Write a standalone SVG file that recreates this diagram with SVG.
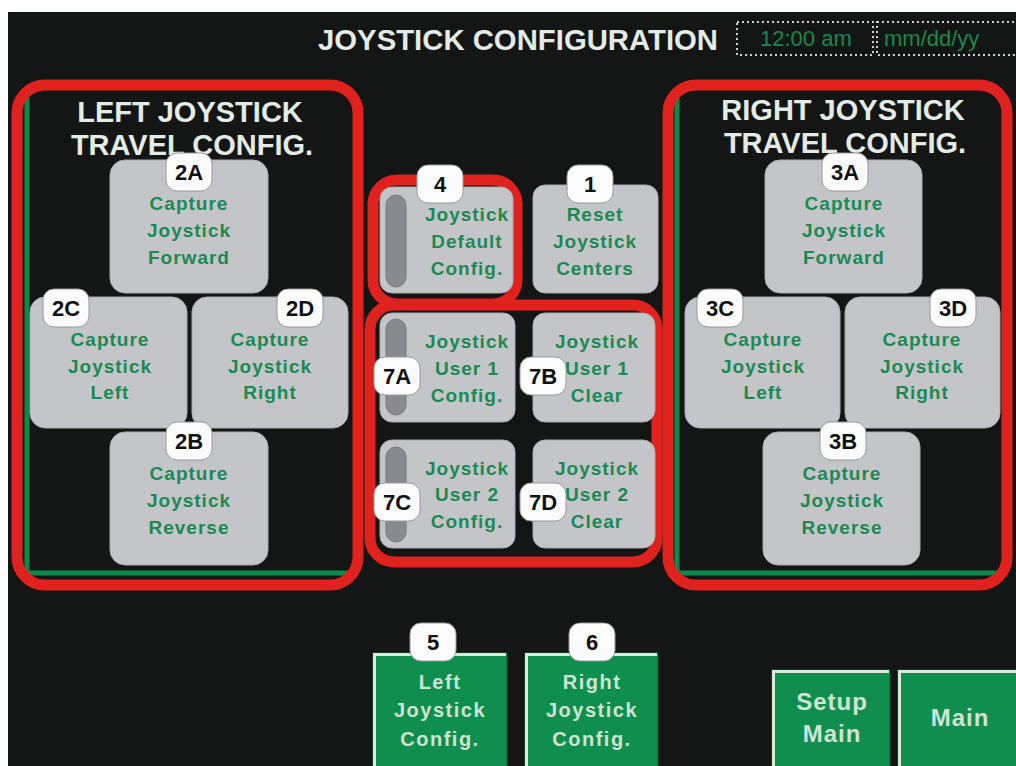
<svg xmlns="http://www.w3.org/2000/svg" width="1016" height="766" viewBox="0 0 1016 766">
<defs>
<style>
.bg{fill:#141515}
.red{fill:none;stroke:#e0221f;stroke-width:11}
.grn{stroke:#0d8a4a;stroke-width:5;fill:none}
.btn{fill:#c4c5c9;stroke:#a9abaf;stroke-width:1}
.sl{fill:#878a8e;stroke:#76797d;stroke-width:1}
.bt{font-family:"Liberation Sans",Arial,sans-serif;font-weight:bold;font-size:19px;letter-spacing:1px;fill:#1b8a52;text-anchor:middle}
.bdg{fill:#fbfbfb;stroke:#9a9a9a;stroke-width:1}
.bdt{font-family:"Liberation Sans",Arial,sans-serif;font-weight:bold;font-size:22px;fill:#111;text-anchor:middle}
.ptl{font-family:"Liberation Sans",Arial,sans-serif;font-weight:bold;font-size:29px;fill:#e2ebe4;text-anchor:middle}
.gbtn{fill:#0f8e4d;stroke:#0a5e33;stroke-width:1}
.ghl{stroke:#d6ecd9;stroke-width:3;fill:none}
.gt{font-family:"Liberation Sans",Arial,sans-serif;font-weight:bold;font-size:20px;letter-spacing:1.5px;fill:#cfe4d4;text-anchor:middle}
.gt2{font-family:"Liberation Sans",Arial,sans-serif;font-weight:bold;font-size:24px;letter-spacing:1px;fill:#cfe4d4;text-anchor:middle}
.dot{fill:none;stroke:#cfd3cf;stroke-width:2;stroke-dasharray:2 3}
.dt{font-family:"Liberation Sans",Arial,sans-serif;font-size:22px;fill:#178a4c}
</style>
</defs>
<rect x="0" y="0" width="1016" height="766" fill="#ffffff"/>
<rect class="bg" x="8" y="12" width="1008" height="754"/>

<g id="header">
<text x="518" y="50" font-family="Liberation Sans, Arial, sans-serif" font-weight="bold" font-size="30" fill="#e2ebe4" text-anchor="middle" textLength="400" lengthAdjust="spacingAndGlyphs">JOYSTICK CONFIGURATION</text>
<rect class="dot" x="737" y="22" width="136" height="33"/>
<rect class="dot" x="877" y="22" width="150" height="33"/>
<text class="dt" x="760" y="46">12:00 am</text>
<text class="dt" x="884" y="46">mm/dd/yy</text>
</g>

<g id="left-panel">
<line class="grn" x1="27" y1="95" x2="27" y2="574"/>
<line class="grn" x1="25" y1="573" x2="350" y2="573"/>
<rect class="red" x="17" y="85" width="341" height="500" rx="28"/>
<text class="ptl" x="190" y="122">LEFT JOYSTICK</text>
<text class="ptl" x="192" y="155">TRAVEL CONFIG.</text>
</g>

<g id="right-panel">
<line class="grn" x1="677" y1="95" x2="677" y2="574"/>
<line class="grn" x1="675" y1="573" x2="1002" y2="573"/>
<rect class="red" x="668" y="85" width="339" height="500" rx="28"/>
<text class="ptl" x="843" y="120">RIGHT JOYSTICK</text>
<text class="ptl" x="845" y="153">TRAVEL CONFIG.</text>
</g>

<g id="btn-2A">
<rect class="btn" x="110" y="160" width="158" height="133" rx="15"/>
<text class="bt" x="189" y="210">Capture</text><text class="bt" x="189" y="237">Joystick</text><text class="bt" x="189" y="264">Forward</text>
</g>
<g id="btn-2C">
<rect class="btn" x="30" y="297" width="157" height="131" rx="15"/>
<text class="bt" x="110" y="346">Capture</text><text class="bt" x="110" y="373">Joystick</text><text class="bt" x="110" y="399">Left</text>
</g>
<g id="btn-2D">
<rect class="btn" x="192" y="297" width="156" height="131" rx="15"/>
<text class="bt" x="270" y="346">Capture</text><text class="bt" x="270" y="373">Joystick</text><text class="bt" x="270" y="399">Right</text>
</g>
<g id="btn-2B">
<rect class="btn" x="110" y="432" width="158" height="133" rx="15"/>
<text class="bt" x="189" y="480">Capture</text><text class="bt" x="189" y="507">Joystick</text><text class="bt" x="189" y="534">Reverse</text>
</g>

<g id="btn-3A">
<rect class="btn" x="765" y="160" width="157" height="133" rx="15"/>
<text class="bt" x="844" y="210">Capture</text><text class="bt" x="844" y="237">Joystick</text><text class="bt" x="844" y="264">Forward</text>
</g>
<g id="btn-3C">
<rect class="btn" x="685" y="297" width="155" height="131" rx="15"/>
<text class="bt" x="763" y="346">Capture</text><text class="bt" x="763" y="373">Joystick</text><text class="bt" x="763" y="399">Left</text>
</g>
<g id="btn-3D">
<rect class="btn" x="845" y="297" width="155" height="131" rx="15"/>
<text class="bt" x="922" y="346">Capture</text><text class="bt" x="922" y="373">Joystick</text><text class="bt" x="922" y="399">Right</text>
</g>
<g id="btn-3B">
<rect class="btn" x="763" y="432" width="157" height="133" rx="15"/>
<text class="bt" x="842" y="480">Capture</text><text class="bt" x="842" y="507">Joystick</text><text class="bt" x="842" y="534">Reverse</text>
</g>

<g id="middle-frames">
<rect class="red" x="370" y="305" width="287" height="257" rx="24"/>
<rect class="red" x="373" y="180" width="144" height="124" rx="24"/>
</g>

<g id="btn-4">
<rect class="btn" x="380" y="187" width="133" height="106" rx="12"/>
<rect class="sl" x="386" y="195" width="20" height="92" rx="10"/>
<text class="bt" x="467" y="221">Joystick</text><text class="bt" x="467" y="248">Default</text><text class="bt" x="467" y="275">Config.</text>
</g>
<g id="btn-1">
<rect class="btn" x="533" y="185" width="125" height="108" rx="12"/>
<text class="bt" x="595" y="221">Reset</text><text class="bt" x="595" y="248">Joystick</text><text class="bt" x="595" y="275">Centers</text>
</g>
<g id="btn-7A">
<rect class="btn" x="380" y="313" width="135" height="109" rx="12"/>
<rect class="sl" x="386" y="319" width="20" height="96" rx="10"/>
<text class="bt" x="467" y="348">Joystick</text><text class="bt" x="467" y="375">User 1</text><text class="bt" x="467" y="402">Config.</text>
</g>
<g id="btn-7B">
<rect class="btn" x="533" y="313" width="122" height="109" rx="12"/>
<text class="bt" x="597" y="348">Joystick</text><text class="bt" x="597" y="375">User 1</text><text class="bt" x="597" y="402">Clear</text>
</g>
<g id="btn-7C">
<rect class="btn" x="380" y="440" width="135" height="108" rx="12"/>
<rect class="sl" x="386" y="447" width="20" height="95" rx="10"/>
<text class="bt" x="467" y="475">Joystick</text><text class="bt" x="467" y="501">User 2</text><text class="bt" x="467" y="528">Config.</text>
</g>
<g id="btn-7D">
<rect class="btn" x="533" y="440" width="122" height="108" rx="12"/>
<text class="bt" x="597" y="475">Joystick</text><text class="bt" x="597" y="501">User 2</text><text class="bt" x="597" y="528">Clear</text>
</g>

<g id="btn-5">
<rect class="gbtn" x="373" y="653" width="134" height="115"/>
<polyline class="ghl" points="374.5,766 374.5,654.5 506,654.5"/>
<text class="gt" x="440" y="689">Left</text><text class="gt" x="440" y="717">Joystick</text><text class="gt" x="440" y="746">Config.</text>
</g>
<g id="btn-6">
<rect class="gbtn" x="525" y="653" width="133" height="115"/>
<polyline class="ghl" points="526.5,766 526.5,654.5 657,654.5"/>
<text class="gt" x="592" y="689">Right</text><text class="gt" x="592" y="717">Joystick</text><text class="gt" x="592" y="746">Config.</text>
</g>
<g id="btn-setup-main">
<rect class="gbtn" x="772" y="670" width="118" height="98"/>
<polyline class="ghl" points="773.5,766 773.5,671.5 889,671.5"/>
<text class="gt2" x="832" y="710">Setup</text><text class="gt2" x="832" y="742">Main</text>
</g>
<g id="btn-main">
<rect class="gbtn" x="898" y="670" width="120" height="98"/>
<polyline class="ghl" points="899.5,766 899.5,671.5 1016,671.5"/>
<text class="gt2" x="960" y="726">Main</text>
</g>

<g id="badges">
<g id="badge-2A"><rect class="bdg" x="166" y="153" width="46" height="38" rx="11"/><text class="bdt" x="189" y="180">2A</text></g>
<g id="badge-2C"><rect class="bdg" x="43" y="289" width="46" height="38" rx="11"/><text class="bdt" x="66" y="316">2C</text></g>
<g id="badge-2D"><rect class="bdg" x="277" y="289" width="46" height="38" rx="11"/><text class="bdt" x="300" y="316">2D</text></g>
<g id="badge-2B"><rect class="bdg" x="166" y="422" width="46" height="38" rx="11"/><text class="bdt" x="189" y="449">2B</text></g>
<g id="badge-3A"><rect class="bdg" x="822" y="153" width="46" height="38" rx="11"/><text class="bdt" x="845" y="180">3A</text></g>
<g id="badge-3C"><rect class="bdg" x="697" y="289" width="46" height="38" rx="11"/><text class="bdt" x="720" y="316">3C</text></g>
<g id="badge-3D"><rect class="bdg" x="930" y="289" width="46" height="38" rx="11"/><text class="bdt" x="953" y="316">3D</text></g>
<g id="badge-3B"><rect class="bdg" x="820" y="422" width="46" height="38" rx="11"/><text class="bdt" x="843" y="449">3B</text></g>
<g id="badge-4"><rect class="bdg" x="417" y="165" width="46" height="38" rx="11"/><text class="bdt" x="440" y="192">4</text></g>
<g id="badge-1"><rect class="bdg" x="567" y="165" width="46" height="38" rx="11"/><text class="bdt" x="590" y="192">1</text></g>
<g id="badge-7A"><rect class="bdg" x="374" y="357" width="46" height="38" rx="11"/><text class="bdt" x="397" y="384">7A</text></g>
<g id="badge-7B"><rect class="bdg" x="520" y="357" width="46" height="38" rx="11"/><text class="bdt" x="543" y="384">7B</text></g>
<g id="badge-7C"><rect class="bdg" x="374" y="483" width="46" height="38" rx="11"/><text class="bdt" x="397" y="510">7C</text></g>
<g id="badge-7D"><rect class="bdg" x="520" y="483" width="46" height="38" rx="11"/><text class="bdt" x="543" y="510">7D</text></g>
<g id="badge-5"><rect class="bdg" x="410" y="623" width="46" height="38" rx="11"/><text class="bdt" x="433" y="650">5</text></g>
<g id="badge-6"><rect class="bdg" x="569" y="623" width="46" height="38" rx="11"/><text class="bdt" x="592" y="650">6</text></g>
</g>

<g id="connectors"/>
</svg>
